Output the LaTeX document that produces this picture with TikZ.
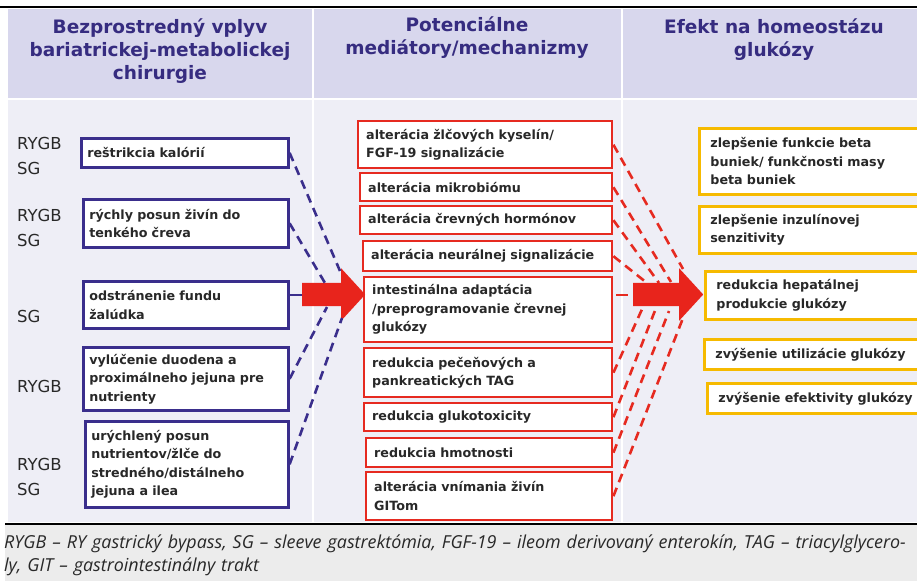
\documentclass[tikz,border=0pt]{standalone}
\usepackage{fontspec}
\setmainfont{DejaVu Sans}
\newfontfamily\capfamily{Open Sans}
\usepackage{xcolor}
\usepackage{tikz}
\usetikzlibrary{shapes.geometric, shapes.arrows, arrows}
\definecolor{headbg}{RGB}{216,215,237}
\definecolor{bodybg}{RGB}{238,238,246}
\definecolor{capbg}{RGB}{236,236,236}
\definecolor{headtext}{RGB}{54,44,128}
\definecolor{navyline}{RGB}{58,46,140}
\definecolor{redline}{RGB}{230,42,32}
\definecolor{arrowred}{RGB}{232,36,28}
\definecolor{yellowline}{RGB}{246,186,0}
\definecolor{boxtext}{RGB}{40,40,40}
\newcommand{\headfont}{\fontsize{18.5}{23}\selectfont\bfseries}
\newcommand{\boxfont}{\fontsize{12.7}{18.5}\selectfont\bfseries}
\newcommand{\labelfont}{\fontsize{16.5}{25}\selectfont}
\newcommand{\capfont}{\capfamily\itshape\fontsize{17.9}{23}\selectfont}
\tikzstyle{colhead} = [text=headtext, font=\headfont, align=center, anchor=north, inner sep=0pt]
\tikzstyle{procedure} = [text=boxtext, font=\labelfont, align=left, anchor=west, inner sep=0pt]
\tikzstyle{surgery} = [rectangle, draw=navyline, line width=2.6pt, fill=white, text=boxtext, font=\boxfont, align=left, anchor=north west, inner xsep=6pt, inner ysep=1pt]
\tikzstyle{mediator} = [rectangle, draw=redline, line width=2.4pt, fill=white, text=boxtext, font=\boxfont, align=left, anchor=north west, inner xsep=8pt, inner ysep=1pt]
\tikzstyle{effect} = [rectangle, draw=yellowline, line width=2.8pt, fill=white, text=boxtext, font=\boxfont, align=left, anchor=north west, inner xsep=11pt, inner ysep=1pt]
\tikzstyle{bigarrow} = [single arrow, draw=none, fill=arrowred, inner xsep=0pt, inner ysep=11.5pt, single arrow head extend=14.5pt, single arrow tip angle=95, anchor=tail]
\tikzstyle{navydash} = [draw=navyline, line width=2.6pt, dash pattern=on 9pt off 6pt]
\tikzstyle{reddash} = [draw=redline, line width=2.6pt, dash pattern=on 9pt off 6pt]

\begin{document}
\begin{tikzpicture}[x=1pt, y=-1pt]
    \clip (0,0) rectangle (917,581);
    % background bands
    \draw [black, line width=1.2pt] (0,7) -- (917,7);
    \fill [headbg] (8,9) rectangle (917,98);
    \fill [bodybg] (8,100) rectangle (917,522);
    \draw [white, line width=1.5pt] (313,9) -- (313,522);
    \draw [white, line width=1.5pt] (622,9) -- (622,522);
    \draw [black, line width=1.2pt] (5,524) -- (917,524);
    \fill [capbg] (5,525) rectangle (917,581);
    % column heads
    \node (head_surgery) [colhead] at (160,19) {Bezprostredný vplyv\\bariatrickej-metabolickej\\chirurgie};
    \node (head_mediators) [colhead] at (467,17) {Potenciálne\\mediátory/mechanizmy};
    \node (head_effect) [colhead] at (774,19) {Efekt na homeostázu\\glukózy};
    % procedures
    \node (lab_1) [procedure] at (17,156) {RYGB\\SG};
    \node (lab_2) [procedure] at (17,228) {RYGB\\SG};
    \node (lab_3) [procedure] at (17,316) {SG};
    \node (lab_4) [procedure] at (17,386) {RYGB};
    \node (lab_5) [procedure] at (17,477) {RYGB\\SG};
    % direct effects
    \node (restriction) [surgery, text width=195pt, minimum height=29pt] at (80,137) {reštrikcia kalórií};
    \node (transit) [surgery, text width=193pt, minimum height=48pt] at (82,198) {rýchly posun živín do\\tenkého čreva};
    \node (fundus) [surgery, text width=193pt, minimum height=47pt] at (82,280) {odstránenie fundu\\žalúdka};
    \node (exclusion) [surgery, text width=193pt, minimum height=63pt] at (82,346) {vylúčenie duodena a\\proximálneho jejuna pre\\nutrienty};
    \node (delivery) [surgery, text width=191pt, minimum height=86pt] at (84,420) {urýchlený posun\\nutrientov/žlče do\\stredného/distálneho\\jejuna a ilea};
    % mediators
    \node (bile) [mediator, text width=238pt, minimum height=47pt] at (357,120) {alterácia žlčových kyselín/\\FGF-19 signalizácie};
    \node (microbiome) [mediator, text width=236pt, minimum height=28pt] at (359,172) {alterácia mikrobiómu};
    \node (hormones) [mediator, text width=236pt, minimum height=28pt] at (359,205) {alterácia črevných hormónov};
    \node (neural) [mediator, text width=233pt, minimum height=30pt] at (362,240) {alterácia neurálnej signalizácie};
    \node (adaptation) [mediator, text width=232pt, minimum height=65pt] at (363,276) {intestinálna adaptácia\\/preprogramovanie črevnej\\glukózy};
    \node (tag) [mediator, text width=232pt, minimum height=49pt] at (363,347) {redukcia pečeňových a\\pankreatických TAG};
    \node (glucotox) [mediator, text width=232pt, minimum height=28pt] at (363,402) {redukcia glukotoxicity};
    \node (weight) [mediator, text width=230pt, minimum height=29pt] at (365,437) {redukcia hmotnosti};
    \node (sensing) [mediator, text width=230pt, minimum height=48pt] at (365,471) {alterácia vnímania živín\\GITom};
    % effects on glucose homeostasis
    \node (beta) [effect, text width=210pt, minimum height=66pt] at (698,127) {zlepšenie funkcie beta\\buniek/ funkčnosti masy\\beta buniek};
    \node (insulin) [effect, text width=210pt, minimum height=47pt] at (698,205) {zlepšenie inzulínovej\\senzitivity};
    \node (hepatic) [effect, text width=210pt, minimum height=48pt] at (704,270) {redukcia hepatálnej\\produkcie glukózy};
    \node (utilization) [effect, text width=210pt, minimum height=30pt] at (703,338) {zvýšenie utilizácie glukózy};
    \node (efficiency) [effect, text width=210pt, minimum height=30pt] at (706,382) {zvýšenie efektivity glukózy};
    % big arrows
    \node (arrow_one) [bigarrow, minimum height=63pt] at (302,294.5) {};
    \node (arrow_two) [bigarrow, minimum height=70pt] at (633,294.5) {};
    % dashed links
    \coordinate (nav_1) at (340,271);
    \coordinate (nav_2) at (325,283);
    \coordinate (nav_4) at (327,307);
    \coordinate (nav_5) at (342,318);
    \draw [navydash] (restriction.east) -- (nav_1);
    \draw [navydash] (transit.east) -- (nav_2);
    \draw [navydash] (exclusion.east) -- (nav_4);
    \draw [navydash] (delivery.east) -- (nav_5);
    \draw [draw=navyline, line width=2pt] (fundus.east |- arrow_one.tail) -- (arrow_one.tail);
    \coordinate (red_1) at (683,269);
    \coordinate (red_2) at (671,282);
    \coordinate (red_3) at (659,283);
    \coordinate (red_4) at (647,283);
    \coordinate (red_6) at (643,307);
    \coordinate (red_7) at (656,308);
    \coordinate (red_8) at (669,311);
    \coordinate (red_9) at (683,318);
    \draw [reddash] (bile.east) -- (red_1);
    \draw [reddash] (microbiome.east) -- (red_2);
    \draw [reddash] (hormones.east) -- (red_3);
    \draw [reddash] (neural.east) -- (red_4);
    \draw [reddash] (tag.east) -- (red_6);
    \draw [reddash] (glucotox.east) -- (red_7);
    \draw [reddash] (weight.east) -- (red_8);
    \draw [reddash] (sensing.east) -- (red_9);
    \draw [draw=redline, line width=2pt, shorten <=3pt, shorten >=5pt] (adaptation.east |- arrow_two.tail) -- (arrow_two.tail);
    % caption
    \node (caption) [font=\capfont, text=boxtext, align=left, anchor=north west, inner sep=0pt, text width=950pt] at (4,535) {RYGB – RY gastrický bypass, SG – sleeve gastrektómia, FGF-19 – ileom derivovaný enterokín, TAG – triacylglycero-\\ly, GIT – gastrointestinálny trakt};
\end{tikzpicture}
\end{document}
